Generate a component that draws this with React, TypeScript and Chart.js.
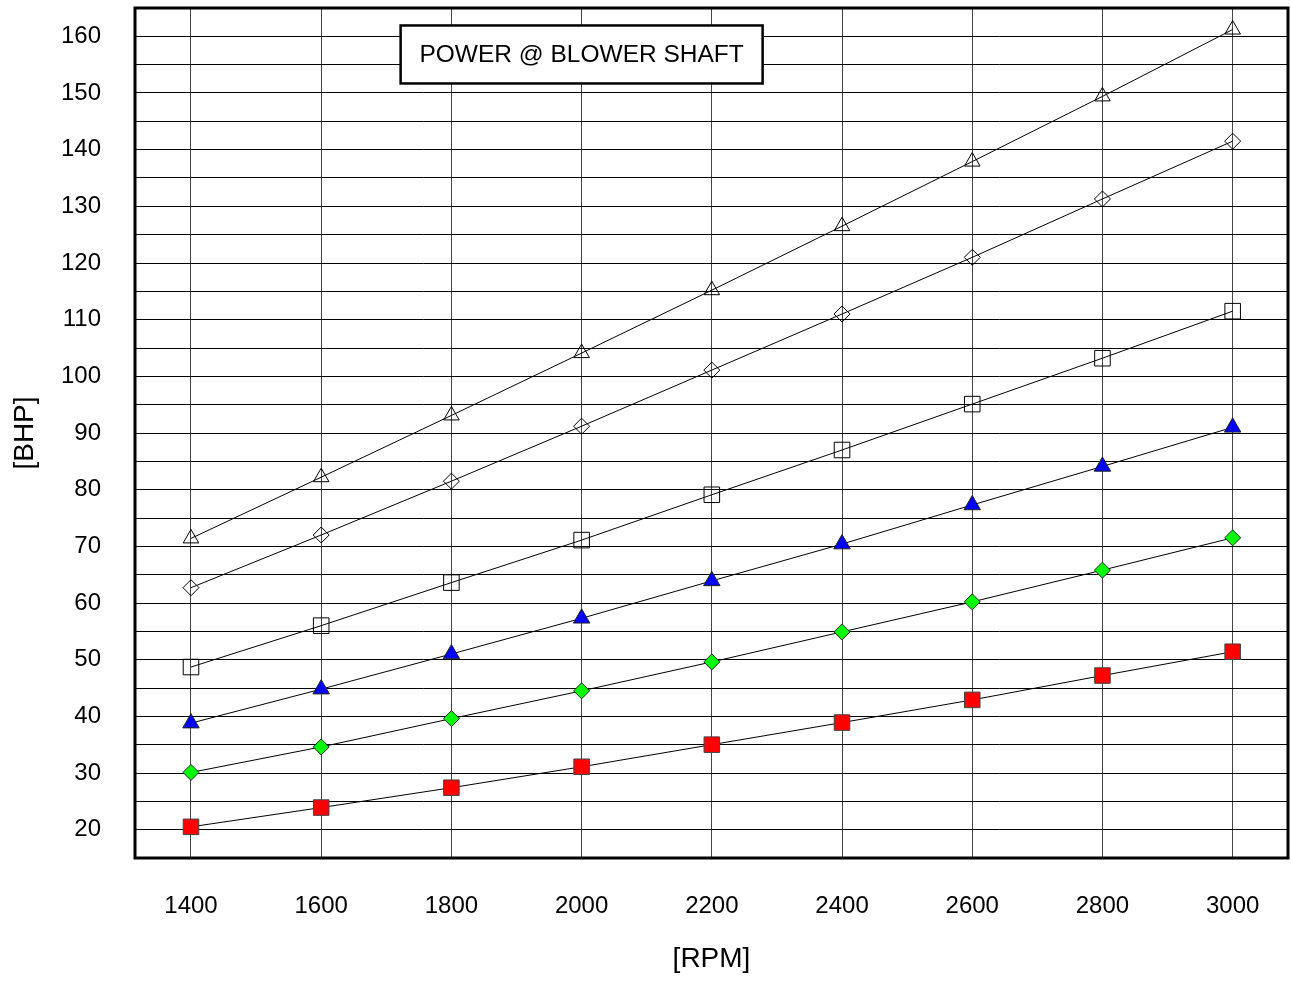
import React, { useEffect, useRef } from 'react';
import { Chart, registerables } from 'chart.js';

Chart.register(...registerables);

// Data
const rpm = [1400, 1600, 1800, 2000, 2200, 2400, 2600, 2800, 3000];
const seriesOpenTriangle = [71.4, 82.2, 93.1, 104.1, 115.2, 126.5, 137.9, 149.4, 161.2];
const seriesOpenDiamond = [62.7, 72.0, 81.5, 91.2, 101.1, 111.0, 121.0, 131.3, 141.5];
const seriesOpenSquare = [48.7, 56.0, 63.6, 71.1, 79.1, 87.0, 95.1, 103.2, 111.5];
const seriesBlueTriangle = [38.8, 44.8, 51.0, 57.3, 63.9, 70.4, 77.3, 84.1, 91.0];
const seriesGreenDiamond = [30.1, 34.6, 39.6, 44.5, 49.6, 54.9, 60.2, 65.8, 71.5];
const seriesRedSquare = [20.5, 23.9, 27.4, 31.1, 35.0, 38.9, 42.9, 47.2, 51.4];

const xTicks = [1400, 1600, 1800, 2000, 2200, 2400, 2600, 2800, 3000];
const yLabelStep = 10;
const noteText = 'POWER @ BLOWER SHAFT';
const noteAtX = 2000;
const noteAtY = 156.8;
const xTitle = '[RPM]';
const yTitle = '[BHP]';

const FONT = '"Liberation Sans", Arial, sans-serif';

const toPoints = (vals: number[]) => vals.map((v, i) => ({ x: rpm[i], y: v }));

const framePlugin = {
  id: 'frame',
  afterDatasetsDraw(chart: any) {
    const { ctx, scales } = chart;
    const cx = scales.x.getPixelForValue(noteAtX);
    const cy = scales.y.getPixelForValue(noteAtY);
    const w = 362;
    const h = 58;
    ctx.save();
    ctx.fillStyle = '#ffffff';
    ctx.fillRect(cx - w / 2, cy - h / 2, w, h);
    ctx.lineWidth = 2.5;
    ctx.strokeStyle = '#000000';
    ctx.strokeRect(cx - w / 2, cy - h / 2, w, h);
    ctx.fillStyle = '#000000';
    ctx.font = `24.5px ${FONT}`;
    ctx.textAlign = 'center';
    ctx.textBaseline = 'middle';
    ctx.fillText(noteText, cx, cy + 1);
    ctx.restore();
  },
  afterDraw(chart: any) {
    const { ctx, chartArea: a } = chart;
    ctx.save();
    ctx.lineWidth = 3;
    ctx.strokeStyle = '#000000';
    ctx.strokeRect(a.left, a.top, a.right - a.left, a.bottom - a.top);
    ctx.restore();
  },
};

export default function App() {
  const ref = useRef<HTMLCanvasElement | null>(null);

  useEffect(() => {
    document.body.style.margin = '0';
    const canvas = ref.current;
    if (!canvas) return;
    Chart.defaults.font.family = FONT;
    Chart.defaults.color = '#000000';

    const common = { borderColor: '#000000', borderWidth: 1, showLine: true, tension: 0, fill: false };

    const chart = new Chart(canvas, {
      type: 'scatter',
      data: {
        datasets: [
          {
            ...common,
            label: 'A',
            data: toPoints(seriesOpenTriangle),
            pointStyle: 'triangle',
            pointRadius: 9,
            pointBackgroundColor: 'rgba(0,0,0,0)',
            pointBorderColor: '#000000',
            pointBorderWidth: 1,
          },
          {
            ...common,
            label: 'B',
            data: toPoints(seriesOpenDiamond),
            pointStyle: 'rectRot',
            pointRadius: 8,
            pointBackgroundColor: 'rgba(0,0,0,0)',
            pointBorderColor: '#000000',
            pointBorderWidth: 1,
          },
          {
            ...common,
            label: 'C',
            data: toPoints(seriesOpenSquare),
            pointStyle: 'rect',
            pointRadius: 11,
            pointBackgroundColor: 'rgba(0,0,0,0)',
            pointBorderColor: '#000000',
            pointBorderWidth: 1,
          },
          {
            ...common,
            label: 'D',
            data: toPoints(seriesBlueTriangle),
            pointStyle: 'triangle',
            pointRadius: 9.5,
            pointBackgroundColor: '#0000ff',
            pointBorderColor: '#222222',
            pointBorderWidth: 1,
          },
          {
            ...common,
            label: 'E',
            data: toPoints(seriesGreenDiamond),
            pointStyle: 'rectRot',
            pointRadius: 8,
            pointBackgroundColor: '#00ff00',
            pointBorderColor: '#222222',
            pointBorderWidth: 1,
          },
          {
            ...common,
            label: 'F',
            data: toPoints(seriesRedSquare),
            pointStyle: 'rect',
            pointRadius: 11,
            pointBackgroundColor: '#ff0000',
            pointBorderColor: '#444444',
            pointBorderWidth: 1,
          },
        ],
      },
      options: {
        animation: false,
        responsive: false,
        maintainAspectRatio: false,
        layout: { autoPadding: false, padding: { top: 8, right: 3, left: 0, bottom: 0 } },
        plugins: {
          legend: { display: false },
          tooltip: { enabled: false },
        },
        scales: {
          x: {
            type: 'linear',
            min: 1314,
            max: 3085,
            afterBuildTicks: (scale: any) => {
              scale.ticks = xTicks.map((v) => ({ value: v }));
            },
            afterFit: (scale: any) => {
              scale.height = 125;
              scale.paddingLeft = 0;
              scale.paddingRight = 0;
              scale.paddingTop = 0;
              scale.paddingBottom = 0;
            },
            grid: { color: '#444444', lineWidth: 1, drawTicks: false },
            border: { display: false },
            ticks: {
              autoSkip: false,
              maxRotation: 0,
              padding: 34,
              font: { size: 24 },
              color: '#000000',
              callback: (v: any) => String(v),
            },
            title: {
              display: true,
              text: xTitle,
              font: { size: 28 },
              color: '#000000',
              padding: { top: 0, bottom: 7 },
            },
          },
          y: {
            type: 'linear',
            min: 15,
            max: 165,
            afterFit: (scale: any) => {
              scale.width = 135;
              scale.paddingLeft = 0;
              scale.paddingRight = 0;
              scale.paddingTop = 0;
              scale.paddingBottom = 0;
            },
            grid: { color: '#000000', lineWidth: 1, drawTicks: false },
            border: { display: false },
            ticks: {
              stepSize: 5,
              autoSkip: false,
              padding: 34,
              font: { size: 24 },
              color: '#000000',
              callback: (v: any) => (Number(v) % yLabelStep === 0 ? String(v) : ''),
            },
            title: {
              display: true,
              text: yTitle,
              font: { size: 28 },
              color: '#000000',
              padding: { top: 8, bottom: 0 },
            },
          },
        },
      },
      plugins: [framePlugin],
    } as any);

    return () => chart.destroy();
  }, []);

  return (
    <canvas
      ref={ref}
      width={1291}
      height={983}
      style={{ display: 'block', width: '1291px', height: '983px' }}
    />
  );
}
